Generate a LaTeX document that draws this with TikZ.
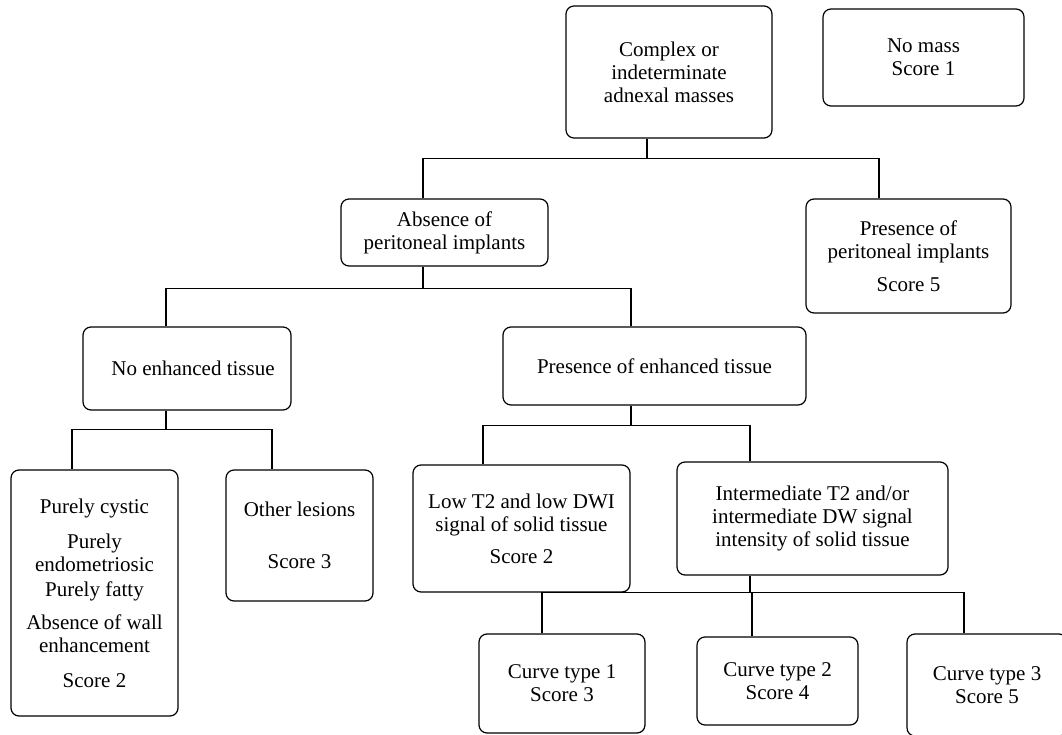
\documentclass[tikz,border=0pt]{standalone}
\usepackage{fontspec}
\setmainfont{Liberation Serif}
\usetikzlibrary{positioning}

\begin{document}
\begin{tikzpicture}[x=1pt, y=-1pt, line width=1.2pt, main/.style = {draw, rounded corners=8pt, align=center, inner sep=2pt, font=\fontsize{21}{23}\selectfont}]
\useasboundingbox (0,0) rectangle (1062,735);

\node[main, minimum width=206, minimum height=132] (top) at (669,72) {Complex or\\indeterminate\\adnexal masses};
\node[main, minimum width=201, minimum height=97] (nomass) at (923.5,57.5) {No mass\\Score 1};
\node[main, minimum width=207, minimum height=67] (absence) at (444.5,232.5) {Absence of\\peritoneal implants};
\node[main, minimum width=205, minimum height=114] (presimpl) at (908.5,256) {Presence of\\peritoneal implants\\[10pt]Score 5};
\node[main, minimum width=208, minimum height=83] (noenh) at (187,368.5) {\hspace{12pt}No enhanced tissue};
\node[main, minimum width=303, minimum height=78] (presenh) at (654.5,366) {Presence of enhanced tissue};
\node[main, minimum width=167, minimum height=246] (cystic) at (94.5,593) {Purely cystic\\[12pt]Purely\\endometriosic\\[2pt]Purely fatty\\[10pt]Absence of wall\\enhancement\\[12pt]Score 2};
\node[main, minimum width=147, minimum height=131] (other) at (299.5,535.5) {Other lesions\\[29pt]Score 3};
\node[main, minimum width=217, minimum height=127] (lowt) at (521.5,528.5) {Low T2 and low DWI\\signal of solid tissue\\[9pt]Score 2};
\node[main, minimum width=271, minimum height=113] (interm) at (812.5,518.5) {Intermediate T2 and/or\\intermediate DW signal\\intensity of solid tissue};
\node[main, minimum width=166, minimum height=99] (curvea) at (562,683.5) {Curve type 1\\Score 3};
\node[main, minimum width=161, minimum height=88] (curveb) at (777.5,681) {Curve type 2\\Score 4};
\node[main, minimum width=160, minimum height=102] (curvec) at (987,685) {Curve type 3\\Score 5};

\draw ([xshift=-22]top.south) -- ++(0,20) -| ([xshift=-21.5]absence.north);
\draw ([xshift=-22]top.south) -- ++(0,20) -| ([xshift=-29.5]presimpl.north);
\draw ([xshift=-21.5]absence.south) -- ++(0,22) -| ([xshift=-21]noenh.north);
\draw ([xshift=-21.5]absence.south) -- ++(0,22) -| ([xshift=-23.5]presenh.north);
\draw ([xshift=-21]noenh.south) -- ++(0,19) -| ([xshift=-22.5]cystic.north);
\draw ([xshift=-21]noenh.south) -- ++(0,19) -| ([xshift=-27.5]other.north);
\draw ([xshift=-23.5]presenh.south) -- ++(0,20) -| ([xshift=-38.5]lowt.north);
\draw ([xshift=-23.5]presenh.south) -- ++(0,20) -| ([xshift=-62.5]interm.north);
\draw ([xshift=-62.5]interm.south) -- ++(0,17) -| ([xshift=-20]curvea.north);
\draw ([xshift=-62.5]interm.south) -- ++(0,17) -| ([xshift=-25.5]curveb.north);
\draw ([xshift=-62.5]interm.south) -- ++(0,17) -| ([xshift=-23]curvec.north);
\end{tikzpicture}
\end{document}
